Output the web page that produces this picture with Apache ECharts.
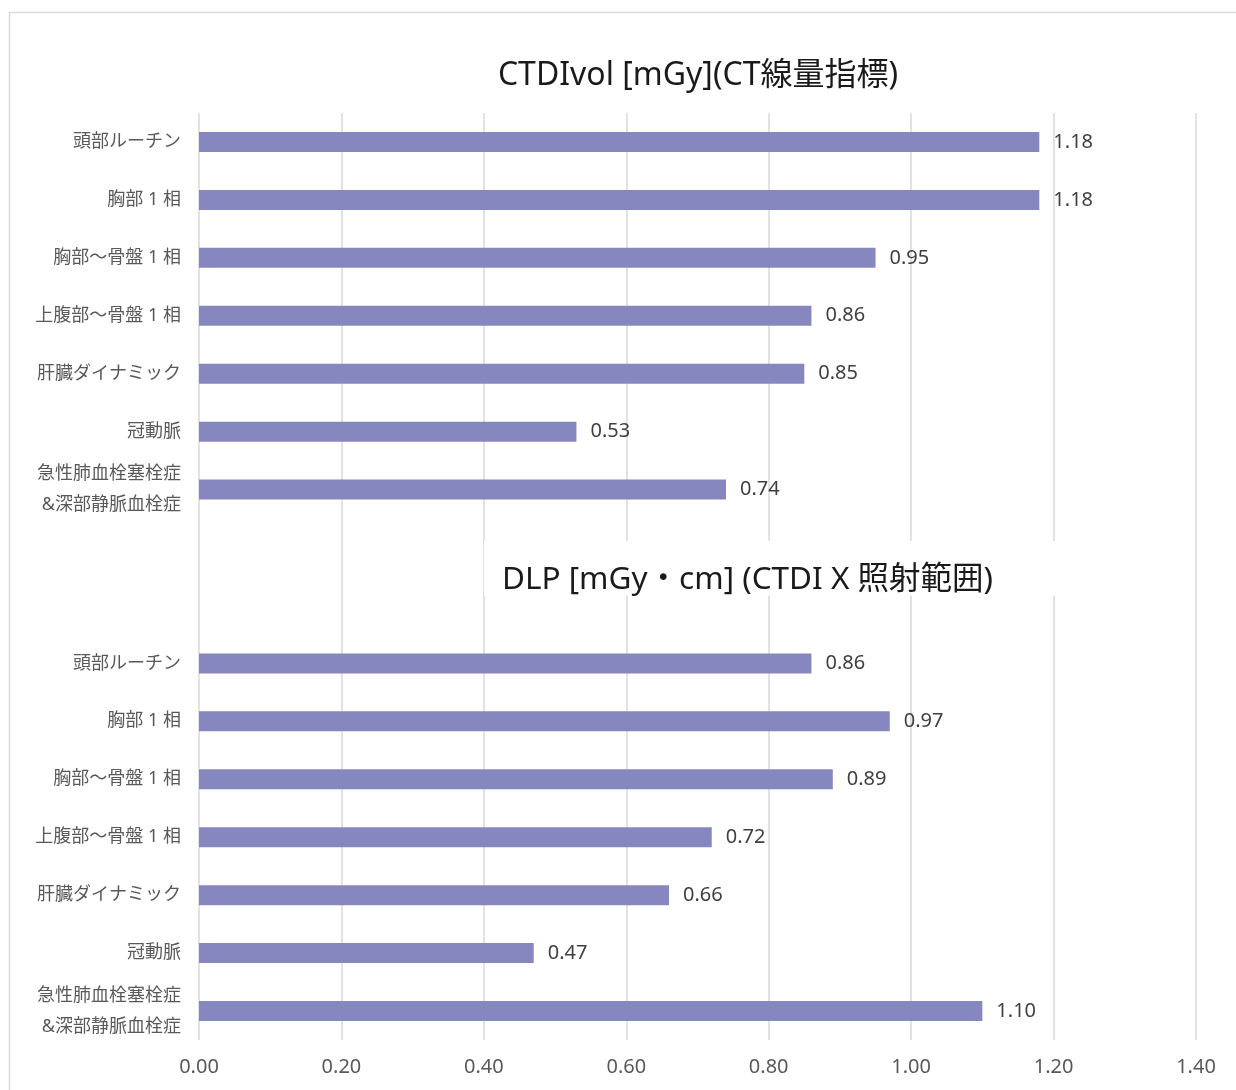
<!DOCTYPE html>
<html>
<head>
<meta charset="utf-8">
<script src="https://cdn.jsdelivr.net/npm/echarts@6/dist/echarts.min.js"></script>
<style>
  body { margin: 0; background: #fff; }
  #chart { width: 1236px; height: 1090px; }
</style>
</head>
<body>
<div id="chart"></div>
<script>
// categories (two blank slots leave room for the second heading)
var exams = ['頭部ルーチン', '胸部 1 相', '胸部～骨盤 1 相', '上腹部～骨盤 1 相', '肝臓ダイナミック', '冠動脈', '急性肺血栓塞栓症\n&深部静脈血栓症'];
var ctdiValues = [1.18, 1.18, 0.95, 0.86, 0.85, 0.53, 0.74];
var dlpValues = [0.86, 0.97, 0.89, 0.72, 0.66, 0.47, 1.10];
var xTicks = [0, 0.2, 0.4, 0.6, 0.8, 1.0, 1.2, 1.4];

var categories = exams.concat(['', ' ']).concat(exams);
var values = ctdiValues.concat([null, null]).concat(dlpValues);

var font = "'Noto Sans', 'Noto Sans CJK JP', sans-serif";

(function(){
    var myChart = echarts.init(document.getElementById('chart'));

    var option = {
        animation: false,
        backgroundColor: '#fff',
        textStyle: { fontFamily: font },
        title: [
            {
                text: 'CTDIvol [mGy](CT線量指標)',
                left: 693,
                top: 55,
                textAlign: 'center',
                textStyle: { fontSize: 32, fontWeight: 'normal', color: '#1a1a1a', fontFamily: font }
            },
            {
                text: 'DLP [mGy・cm] (CTDI X 照射範囲)',
                left: 484,
                top: 541,
                backgroundColor: '#fff',
                padding: [23, 62, 0, 18],
                textStyle: { fontSize: 31.5, fontWeight: 'normal', color: '#1a1a1a', fontFamily: font }
            }
        ],
        graphic: [{
            type: 'rect',
            shape: { x: 9.5, y: 12.5, width: 1240, height: 1100 },
            style: { fill: 'none', stroke: '#d9d9d9', lineWidth: 1.5 },
            z: -1
        }],
        grid: { left: 199, right: 40, top: 113, bottom: 50 },
        xAxis: {
            type: 'value',
            min: xTicks[0],
            max: xTicks[xTicks.length - 1],
            interval: 0.2,
            axisLine: { show: false },
            axisTick: { show: false },
            splitLine: { lineStyle: { color: '#d9d9d9', width: 1.5 } },
            axisLabel: {
                margin: 17,
                fontSize: 20,
                color: '#595959',
                fontFamily: font,
                formatter: function (v) { return v.toFixed(2); }
            }
        },
        yAxis: {
            type: 'category',
            inverse: true,
            data: categories,
            axisLine: { show: false },
            axisTick: { show: false },
            axisLabel: {
                margin: 18,
                fontSize: 18,
                lineHeight: 31,
                color: '#595959',
                fontFamily: font
            }
        },
        series: [{
            type: 'bar',
            data: values,
            barWidth: 20,
            itemStyle: { color: '#8787c0' },
            label: {
                show: true,
                position: 'right',
                distance: 14,
                fontSize: 20,
                color: '#404040',
                fontFamily: font,
                formatter: function (p) { return p.value == null ? '' : p.value.toFixed(2); }
            }
        }]
    };

    myChart.setOption(option);
})();
</script>
</body>
</html>
